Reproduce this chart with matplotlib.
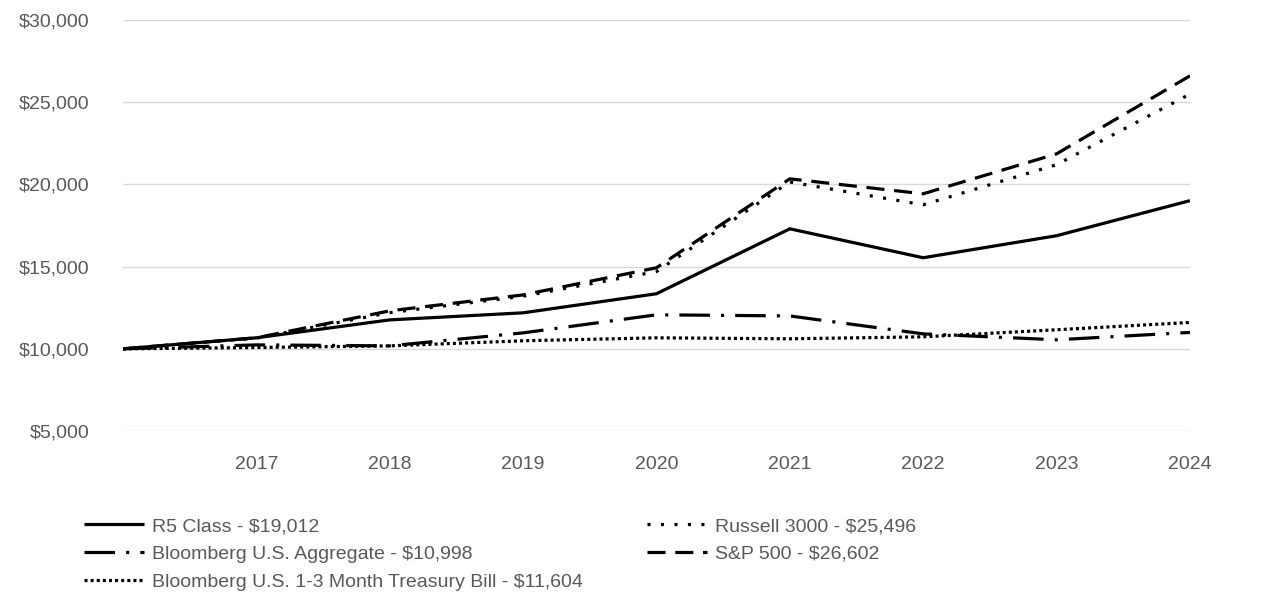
import matplotlib
matplotlib.use("Agg")
import matplotlib.pyplot as plt
from matplotlib.ticker import FuncFormatter, FixedLocator

years = [2016, 2017, 2018, 2019, 2020, 2021, 2022, 2023, 2024]
tick_years = [2017, 2018, 2019, 2020, 2021, 2022, 2023, 2024]

r5_class = [10000, 10670, 11760, 12190, 13350, 17300, 15540, 16880, 19012]
russell_3000 = [10000, 10650, 12200, 13200, 14700, 20150, 18760, 21200, 25496]
bbg_aggregate = [10000, 10240, 10180, 10970, 12070, 12000, 10910, 10550, 10998]
sp_500 = [10000, 10670, 12310, 13280, 14930, 20340, 19430, 21860, 26602]
bbg_tbill = [10000, 10080, 10180, 10490, 10670, 10610, 10730, 11160, 11604]

labels = ["R5 Class - $19,012", "Bloomberg U.S. Aggregate - $10,998",
          "Bloomberg U.S. 1-3 Month Treasury Bill - $11,604",
          "Russell 3000 - $25,496", "S&P 500 - $26,602"]

plt.rcParams['font.family'] = ['Liberation Sans', 'DejaVu Sans']
plt.rcParams['font.size'] = 14
plt.rcParams['lines.scale_dashes'] = False

txt = '#595959'
fig = plt.figure(figsize=(12.86, 6.14), dpi=100)
ax = fig.add_axes([0.0956, 0.298, 0.8297, 0.6694])

lw = 2.3
l_r5, = ax.plot(years, r5_class, color='black', lw=lw, solid_capstyle='butt')
l_agg, = ax.plot(years, bbg_aggregate, color='black', lw=lw, dashes=(22, 8, 2.2, 8),
                 dash_capstyle='butt')
l_tb, = ax.plot(years, bbg_tbill, color='black', lw=lw, dashes=(2.2, 2.2),
                dash_capstyle='butt')
l_ru, = ax.plot(years, russell_3000, color='black', lw=lw, dashes=(2.2, 7.5),
                dash_capstyle='butt')
l_sp, = ax.plot(years, sp_500, color='black', lw=lw, dashes=(13, 7),
                dash_capstyle='butt')

ax.set_xlim(2016, 2024)
ax.set_ylim(5000, 30000)
ax.xaxis.set_major_locator(FixedLocator(tick_years))
ax.set_yticks(range(5000, 30001, 5000))
ax.yaxis.set_major_formatter(FuncFormatter(lambda v, _: f'${v:,.0f}'))
ax.tick_params(axis='both', length=0, labelcolor=txt, labelsize=14)
ax.tick_params(axis='y', pad=24)
ax.tick_params(axis='x', pad=18)
ax.yaxis.grid(True, color='#d9d9d9', lw=1)
ax.set_axisbelow(True)
for s in ax.spines.values():
    s.set_visible(False)

handles = [l_r5, l_agg, l_tb, l_ru, l_sp]
leg = fig.legend(handles, labels, ncol=2, loc='upper left',
                 bbox_to_anchor=(0.0575, 0.173), frameon=False, borderpad=0,
                 handlelength=3.1, handletextpad=0.41, columnspacing=3.3,
                 labelspacing=0.52, fontsize=14)
for t in leg.get_texts():
    t.set_color(txt)

fig.savefig("out.png", dpi=100)
